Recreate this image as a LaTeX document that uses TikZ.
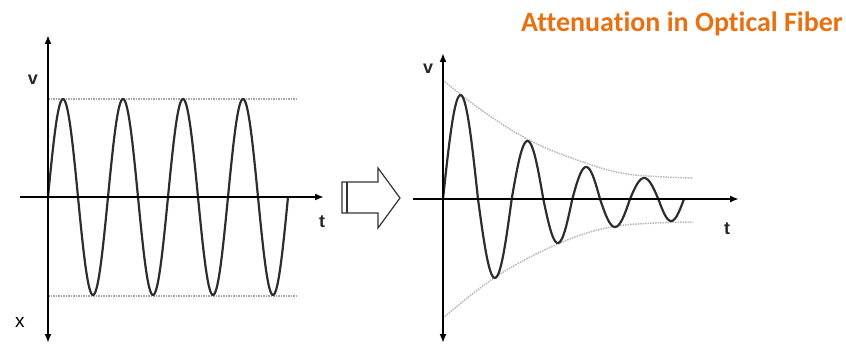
\documentclass[tikz,border=0pt]{standalone}
\usepackage{fontspec}
\setmainfont{Liberation Sans}
\newfontfamily\titlefont[Ligatures=NoCommon]{Carlito}
\usetikzlibrary{arrows.meta}
\definecolor{titleorange}{RGB}{232,112,16}
\definecolor{wavegray}{RGB}{45,45,45}
\tikzset{
  axis/.style={line width=2.6pt, black},
  axisarrow/.style={axis, -{Latex[length=9pt,width=7pt]}},
  axisboth/.style={axis, {Latex[length=9pt,width=7pt]}-{Latex[length=9pt,width=7pt]}},
  wave/.style={line width=2.2pt, wavegray, line cap=round, line join=round},
  guide/.style={line width=1.5pt, gray!70, densely dotted},
  envelope/.style={line width=1.5pt, gray!55, densely dotted},
  lbl/.style={font=\fontsize{18}{18}\selectfont\bfseries, text=black!85, inner sep=0pt},
  hollow/.style={line width=1.2pt, black!80, fill=white}
}
\begin{document}
\begin{tikzpicture}[x=1pt,y=-1pt]
\useasboundingbox (0,0) rectangle (846,345);

% ---------- left panel ----------
\coordinate (LyT) at (48,35);
\coordinate (LyB) at (48,343);
\coordinate (LxL) at (20,197);
\coordinate (LxR) at (324,197);
\coordinate (LgTa) at (48,99);
\coordinate (LgTb) at (296,99);
\coordinate (LgBa) at (48,296);
\coordinate (LgBb) at (296,296);
\draw[guide] (LgTa) -- (LgTb);
\draw[guide] (LgBa) -- (LgBb);
\draw[wave] plot[domain=0:1440, samples=240] ({48+\x/6},{197-98*sin(\x)});
\draw[axisboth] (LyB) -- (LyT);
\draw[axisarrow] (LxL) -- (LxR);
\node[lbl] (lv) at (33,80) {v};
\node[lbl] (lt) at (322,222) {t};
\node[font=\fontsize{19}{19}\selectfont, inner sep=0pt] (lx) at (20,322) {x};

% ---------- hollow arrow ----------
\draw[hollow] (342,182) -- (378,182) -- (378,168) -- (400,198) -- (378,228) -- (378,213) -- (342,213) -- cycle;
\coordinate (hA) at (347,182);
\coordinate (hB) at (347,213);
\draw[line width=1.2pt, black!80] (hA) -- (hB);

% ---------- right panel ----------
\coordinate (RyT) at (443,53);
\coordinate (RyB) at (443,343);
\coordinate (RxL) at (413,199);
\coordinate (RxR) at (739,199);
\draw[envelope] plot[smooth, tension=0.6] coordinates {(443,80) (477,107) (527,139) (577,160) (627,174) (693,178)};
\draw[envelope] plot[smooth, tension=0.6] coordinates {(443,318) (497,276) (560,243) (617,226) (693,222)};
\draw[wave] (443,199) foreach \a/\b/\A in {443/478/104, 478/511.7/-79, 511.7/543.3/58, 543.3/572.3/-44, 572.3/600/32, 600/630/-28, 630/658.3/21, 658.3/684/-22} { -- plot[domain=0:180, samples=30] ({\a+(\b-\a)*\x/180},{199-\A*sin(\x)}) };
\draw[axisboth] (RyB) -- (RyT);
\draw[axisarrow] (RxL) -- (RxR);
\node[lbl] (rv) at (428,69) {v};
\node[lbl] (rt) at (727,229) {t};

% ---------- title ----------
\node[anchor=base east, inner sep=0pt, text=titleorange, font=\titlefont\fontsize{28}{28}\selectfont\bfseries] (title) at (843,32) {Attenuation in Optical Fiber};
\end{tikzpicture}
\end{document}
